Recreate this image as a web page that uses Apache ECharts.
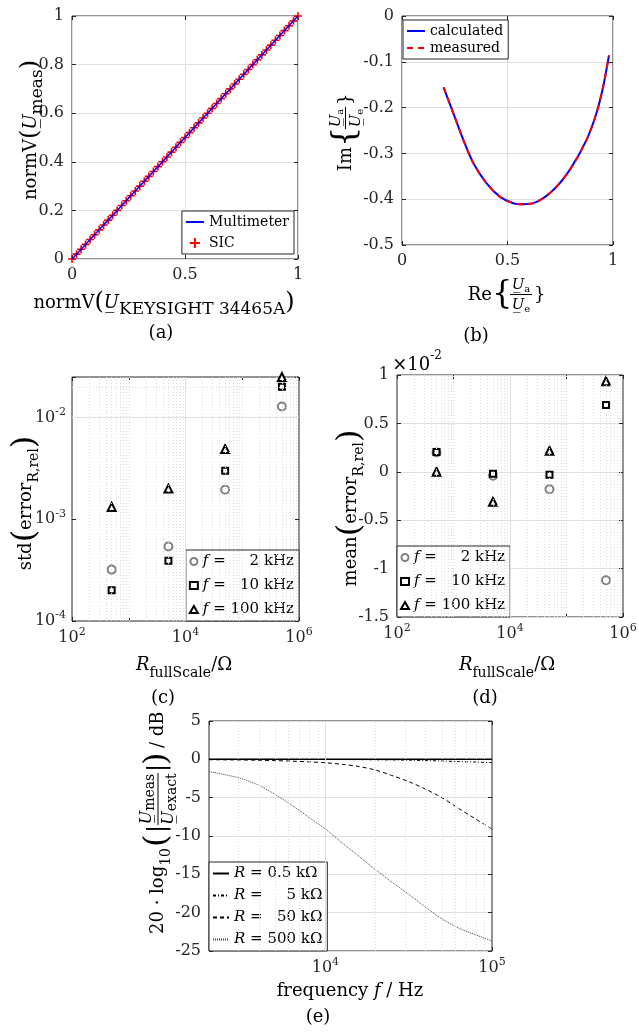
<!DOCTYPE html>
<html><head><meta charset="utf-8">
<script src="https://cdn.jsdelivr.net/npm/echarts@6.0.0/dist/echarts.min.js"></script>
<style>html,body{margin:0;padding:0;background:#fff;}#chart{width:639px;height:1034px;}</style>
</head><body><div id="chart"></div>
<script>
const F = 'DejaVu Serif';

// ---------- (a) normV(U_meas) vs normV(U_KEYSIGHT) ----------
const aKeysight   = [0,0.02,0.04,0.06,0.08,0.1,0.12,0.14,0.16,0.18,0.2,0.22,0.24,0.26,0.28,0.3,0.32,0.34,0.36,0.38,0.4,0.42,0.44,0.46,0.48,0.5,0.52,0.54,0.56,0.58,0.6,0.62,0.64,0.66,0.68,0.7,0.72,0.74,0.76,0.78,0.8,0.82,0.84,0.86,0.88,0.9,0.92,0.94,0.96,0.98,1];
const aMultimeter = [0,0.02,0.04,0.06,0.08,0.1,0.12,0.14,0.16,0.18,0.2,0.22,0.24,0.26,0.28,0.3,0.32,0.34,0.36,0.38,0.4,0.42,0.44,0.46,0.48,0.5,0.52,0.54,0.56,0.58,0.6,0.62,0.64,0.66,0.68,0.7,0.72,0.74,0.76,0.78,0.8,0.82,0.84,0.86,0.88,0.9,0.92,0.94,0.96,0.98,1];
const aSIC        = [0,0.02,0.04,0.06,0.08,0.1,0.12,0.14,0.16,0.18,0.2,0.22,0.24,0.26,0.28,0.3,0.32,0.34,0.36,0.38,0.4,0.42,0.44,0.46,0.48,0.5,0.52,0.54,0.56,0.58,0.6,0.62,0.64,0.66,0.68,0.7,0.72,0.74,0.76,0.78,0.8,0.82,0.84,0.86,0.88,0.9,0.92,0.94,0.96,0.98,1];

// ---------- (b) Nyquist: Re / Im of Ua/Ue ----------
const bRe     = [0.197,0.244,0.291,0.339,0.402,0.465,0.528,0.575,0.638,0.717,0.795,0.874,0.921,0.953,0.981];
const bImCalc = [-0.156,-0.213,-0.271,-0.322,-0.366,-0.395,-0.409,-0.411,-0.406,-0.380,-0.336,-0.271,-0.213,-0.155,-0.086];
const bImMeas = [-0.156,-0.213,-0.271,-0.322,-0.366,-0.395,-0.409,-0.411,-0.406,-0.380,-0.336,-0.271,-0.213,-0.155,-0.086];

// ---------- (c) std(error_R,rel) and (d) mean(error_R,rel) ----------
const cdRfull  = [500, 5000, 50000, 500000];
const cStd2k   = [3.2e-4, 5.4e-4, 1.95e-3, 1.28e-2];
const cStd10k  = [2.0e-4, 3.9e-4, 3.0e-3, 2.0e-2];
const cStd100k = [1.32e-3, 2.0e-3, 4.9e-3, 2.5e-2];
// values in units of 1e-2
const dMean2k   = [0.20, -0.04, -0.18, -1.12];
const dMean10k  = [0.205, -0.02, -0.03, 0.69];
const dMean100k = [0.0, -0.31, 0.217, 0.935];

// ---------- (e) 20 log10(|U_meas/U_exact|) vs frequency ----------
const eFreq = [2000,3000,4000,5000,6300,8000,10000,12600,16000,20000,25000,32000,40000,50000,63000,80000,100000];
const eR05  = [0,0,0,0,0,0,0,0,0,0,0,0,0,0,0,0,0];
const eR5   = [0,0,0,-0.01,-0.01,-0.02,-0.02,-0.03,-0.04,-0.06,-0.08,-0.11,-0.16,-0.22,-0.29,-0.36,-0.43];
const eR50  = [-0.05,-0.08,-0.12,-0.17,-0.24,-0.33,-0.45,-0.65,-0.95,-1.4,-2.1,-2.95,-3.9,-5.0,-6.4,-7.8,-9.1];
const eR500 = [-1.6,-2.4,-3.4,-4.6,-6.0,-7.6,-9.1,-10.9,-12.7,-14.4,-16.0,-17.7,-19.3,-20.8,-22.0,-22.9,-23.7];

// legend texts (U+2007 = figure space, keeps the numbers right-aligned)
const FS = '\u2007';
const cdLegend = {c2: '{i|f} = ' + FS + FS + '2 kHz', c10: '{i|f} = ' + FS + '10 kHz', c100: '{i|f} = 100 kHz',
                  d2: '{i|f} = ' + FS + FS + '2 kHz', d10: '{i|f} = ' + FS + '10 kHz', d100: '{i|f} = 100 kHz'};
const eLegend = {r05: '{i|R} = 0.5 kΩ', r5: '{i|R} = ' + FS + FS + '5 kΩ', r50: '{i|R} = ' + FS + '50 kΩ', r500: '{i|R} = 500 kΩ'};

// grid-line positions on log axes
const cdXMajor = [1e4];
const cdXMinor = []; [2,3,4,5].forEach(d => { for (let k = 1; k <= 9; k++) { if (k === 1 && d % 2 === 0) continue; cdXMinor.push(k * Math.pow(10, d)); } });
const cYMajor = [1e-3, 1e-2];
const cYMinor = []; [-4,-3,-2].forEach(d => { for (let k = 2; k <= 9; k++) { const v = k * Math.pow(10, d); if (v < 0.025) cYMinor.push(v); } });
const eXMajor = [1e4];
const eXMinor = [3000,4000,5000,6000,7000,8000,9000,20000,30000,40000,50000,60000,70000,80000,90000];

const pair = (xs, ys) => xs.map((x, i) => [x, ys[i]]);
const INK = '#262626';
const GRIDC = '#dfdfdf';
const MINORC = '#dcdcdc';

function logFmt(skipOdd) {
  return v => {
    const e = Math.log10(v), r = Math.round(e);
    if (Math.abs(e - r) > 1e-6) return '';
    if (skipOdd && r % 2 !== 0) return '';
    return '{b|10}{s|' + r + '}';
  };
}
const labelRich = {
  b: {fontFamily: F, fontSize: 16, color: INK, lineHeight: 22},
  s: {fontFamily: F, fontSize: 11, color: INK, lineHeight: 11, verticalAlign: 'top'}
};
function axisBase(extra) {
  return Object.assign({
    axisLine: {show: false, onZero: false},
    axisTick: {show: true, inside: true, length: 4, lineStyle: {color: INK}},
    axisLabel: {fontFamily: F, fontSize: 16, color: INK, margin: 8, rich: labelRich},
    splitLine: {show: true, lineStyle: {color: GRIDC, width: 1}},
    minorTick: {show: false}
  }, extra);
}
// mirrored (box) axis: ticks only
function mirror(ax, pos) {
  return Object.assign({}, ax, {position: pos, axisLabel: {show: false}, splitLine: {show: false},
                                 axisLine: {show: false, onZero: false}});
}
function gridLines(idx, xs, ys, major) {
  const sMaj = {color: GRIDC, type: 'solid', width: 1};
  const sMin = {color: MINORC, type: [1, 2], width: 1};
  const data = [];
  xs.forEach(v => data.push({xAxis: v, lineStyle: major.x && major.x.includes(v) ? sMaj : sMin}));
  ys.forEach(v => data.push({yAxis: v, lineStyle: major.y && major.y.includes(v) ? sMaj : sMin}));
  return {type: 'line', name: 'grid' + idx, xAxisIndex: idx, yAxisIndex: idx, data: [], z: 1, silent: true,
          markLine: {silent: true, symbol: ['none', 'none'], label: {show: false}, animation: false, data: data}};
}

const PLUS = 'path://M4,0h2v10h-2z M0,4h10v2h-10z';

const legendBase = {
  orient: 'vertical', selectedMode: false, backgroundColor: '#fff',
  borderColor: INK, borderWidth: 1, padding: [4, 5, 4, 3], itemGap: 4,
  textStyle: {fontFamily: F, fontSize: 15, color: '#000',
    rich: {i: {fontFamily: F, fontSize: 15, fontStyle: 'italic', color: '#000'}}}
};
const lineLegendItem = {color: 'rgba(0,0,0,0)', borderColor: 'rgba(0,0,0,0)', borderWidth: 0};
const smallText = {fontFamily: F, fontSize: 14, color: '#000'};

// rich text styles for graphic (zrender) labels
const RZ = {
  t: {fontFamily: F, fontSize: 18, lineHeight: 30, fill: '#000'},
  i: {fontFamily: F, fontSize: 18, fontStyle: 'italic', lineHeight: 30, fill: '#000'},
  s: {fontFamily: F, fontSize: 14, lineHeight: 14, verticalAlign: 'bottom', fill: '#000'},
  S: {fontFamily: F, fontSize: 17, lineHeight: 14, verticalAlign: 'bottom', fill: '#000'},
  sup: {fontFamily: F, fontSize: 12, lineHeight: 12, verticalAlign: 'top', fill: '#000'},
  p: {fontFamily: F, fontSize: 24, lineHeight: 30, fill: '#000'},
  P: {fontFamily: F, fontSize: 32, lineHeight: 30, fill: '#000'},
  fu: {fontFamily: F, fontSize: 15, fontStyle: 'italic', lineHeight: 18, fill: '#000'},
  fs: {fontFamily: F, fontSize: 10, lineHeight: 8, verticalAlign: 'bottom', fill: '#000'},
  gu: {fontFamily: F, fontSize: 16, fontStyle: 'italic', lineHeight: 20, fill: '#000'},
  gs: {fontFamily: F, fontSize: 14, lineHeight: 12, verticalAlign: 'bottom', fill: '#000'}
};
function T(x, y, text, align, rot) {
  return {type: 'text', x: x, y: y, rotation: rot || 0, z: 100,
          style: {text: text, rich: RZ, align: align || 'center', verticalAlign: 'middle', fill: '#000', font: '18px ' + F}};
}
function L(x1, y1, x2, y2, w) {
  return {type: 'line', shape: {x1: x1, y1: y1, x2: x2, y2: y2}, style: {stroke: '#000', lineWidth: w || 1}, z: 100};
}
const U = 'U\u0332';
// Re{Ua/Ue}-type label, local layout centred near 0
function braceFrac(x, y, rot, pre) {
  return {type: 'group', x: x, y: y, rotation: rot, children: [
    T(-14, 0, '{t|' + pre + '}', 'right'),
    T(-14, 0, '{P|{}', 'left'),
    T(15, -10, '{fu|' + U + '}{fs|a}', 'center'),
    L(4, -0.5, 26, -0.5, 1),
    T(15, 10, '{fu|' + U + '}{fs|e}', 'center'),
    T(28, 0, '{P|}}', 'left')
  ]};
}
// 20·log10(|Umeas/Uexact|) / dB
function eYLabel(x, y) {
  return {type: 'group', x: x, y: y, rotation: Math.PI / 2, children: [
    T(-8, 0, '{t|20 · log}{s|10}', 'right'),
    T(-7, 0, '{P|(}', 'left'),
    T(7, 0, '{p||}', 'left'),
    T(41, -11, '{gu|' + U + '}{gs|meas}', 'center'),
    L(15, 0, 67, 0, 1),
    T(41, 11, '{gu|' + U + '}{gs|exact}', 'center'),
    T(68, 0, '{p||}', 'left'),
    T(75, 0, '{P|)}', 'left'),
    T(92, 0, '{t|/ dB}', 'left')
  ]};
}

const logLabel = f => ({fontFamily: F, fontSize: 16, color: INK, margin: 6, rich: labelRich, formatter: f});
const xMain = [
  axisBase({gridIndex: 0, type: 'value', min: 0, max: 1, interval: 0.5}),
  axisBase({gridIndex: 1, type: 'value', min: 0, max: 1, interval: 0.5}),
  axisBase({gridIndex: 2, type: 'log', logBase: 10, min: 100, max: 1e6, splitLine: {show: false}, axisLabel: logLabel(logFmt(true))}),
  axisBase({gridIndex: 3, type: 'log', logBase: 10, min: 100, max: 1e6, splitLine: {show: false}, axisLabel: logLabel(logFmt(true))}),
  axisBase({gridIndex: 4, type: 'log', logBase: 10, min: 2000, max: 1e5, splitLine: {show: false}, axisLabel: logLabel(logFmt(false))})
];
const yMain = [
  axisBase({gridIndex: 0, type: 'value', min: 0, max: 1, interval: 0.2}),
  axisBase({gridIndex: 1, type: 'value', min: -0.5, max: 0, interval: 0.1}),
  axisBase({gridIndex: 2, type: 'log', logBase: 10, min: 1e-4, max: 0.025, splitLine: {show: false}, axisLabel: logLabel(logFmt(false))}),
  axisBase({gridIndex: 3, type: 'value', min: -1.5, max: 1, interval: 0.5}),
  axisBase({gridIndex: 4, type: 'value', min: -25, max: 5, interval: 5})
];

const option = {
  animation: false,
  backgroundColor: '#fff',
  textStyle: {fontFamily: F},
  grid: [
    {left: 72, top: 16, width: 226, height: 243},
    {left: 402, top: 16, width: 211, height: 229},
    {left: 72, top: 377, width: 227, height: 244},
    {left: 397, top: 375, width: 226, height: 242},
    {left: 209, top: 721, width: 283, height: 230}
  ].map(g => Object.assign(g, {show: true, borderColor: INK, borderWidth: 1, backgroundColor: '#fff',
                                containLabel: false, outerBoundsMode: 'none'})),
  xAxis: xMain.concat(xMain.map(a => mirror(a, 'top'))),
  yAxis: yMain.concat(yMain.map(a => mirror(a, 'right'))),
  legend: [
    Object.assign({}, legendBase, {right: 345, bottom: 780, itemWidth: 18, itemHeight: 10, itemGap: 7, textStyle: smallText,
      data: [{name: 'Multimeter', itemStyle: lineLegendItem}, 'SIC']}),
    Object.assign({}, legendBase, {left: 403, top: 20, itemWidth: 18, itemHeight: 10, itemGap: 3, itemStyle: lineLegendItem,
      textStyle: smallText, data: ['calculated', 'measured']}),
    Object.assign({}, legendBase, {right: 340, bottom: 413, itemWidth: 8, itemHeight: 7, itemGap: 9, data: ['c2', 'c10', 'c100'],
                                   formatter: n => cdLegend[n]}),
    Object.assign({}, legendBase, {left: 397, bottom: 417, itemWidth: 8, itemHeight: 7, itemGap: 9, data: ['d2', 'd10', 'd100'],
                                   formatter: n => cdLegend[n]}),
    Object.assign({}, legendBase, {left: 209, bottom: 83, itemWidth: 16, itemHeight: 10, itemGap: 7, itemStyle: lineLegendItem,
                                   data: ['r05', 'r5', 'r50', 'r500'], formatter: n => eLegend[n]})
  ],
  series: [
    // (a)
    {type: 'scatter', name: 'SIC', xAxisIndex: 0, yAxisIndex: 0, data: pair(aKeysight, aSIC),
     symbol: PLUS, symbolSize: 8, itemStyle: {color: '#ff0000', opacity: 1}, z: 2},
    {type: 'line', name: 'Multimeter', xAxisIndex: 0, yAxisIndex: 0, data: pair(aKeysight, aMultimeter),
     symbol: 'none', lineStyle: {color: '#0000ff', width: 1.5}, itemStyle: {color: '#0000ff'}, z: 3},
    // (b)
    {type: 'line', name: 'calculated', xAxisIndex: 1, yAxisIndex: 1, data: pair(bRe, bImCalc), smooth: 0.3,
     symbol: 'none', lineStyle: {color: '#0000ff', width: 2}, itemStyle: {color: '#0000ff'}},
    {type: 'line', name: 'measured', xAxisIndex: 1, yAxisIndex: 1, data: pair(bRe, bImMeas), smooth: 0.3,
     symbol: 'none', lineStyle: {color: '#ff0000', width: 2, type: [6, 5]}, itemStyle: {color: '#ff0000'}},
    // (c)
    gridLines(2, cdXMajor.concat(cdXMinor), cYMajor.concat(cYMinor), {x: cdXMajor, y: cYMajor}),
    {type: 'scatter', name: 'c2', xAxisIndex: 2, yAxisIndex: 2, data: pair(cdRfull, cStd2k),
     symbol: 'emptyCircle', symbolSize: 8, itemStyle: {color: '#808080', borderWidth: 1, opacity: 1}},
    {type: 'scatter', name: 'c10', xAxisIndex: 2, yAxisIndex: 2, data: pair(cdRfull, cStd10k),
     symbol: 'emptyRect', symbolSize: 6, itemStyle: {color: '#000', borderWidth: 1, opacity: 1}},
    {type: 'scatter', name: 'c100', xAxisIndex: 2, yAxisIndex: 2, data: pair(cdRfull, cStd100k),
     symbol: 'emptyTriangle', symbolSize: 8, itemStyle: {color: '#000', borderWidth: 1, opacity: 1}},
    // (d)
    gridLines(3, cdXMajor.concat(cdXMinor), [], {x: cdXMajor}),
    {type: 'scatter', name: 'd2', xAxisIndex: 3, yAxisIndex: 3, data: pair(cdRfull, dMean2k),
     symbol: 'emptyCircle', symbolSize: 8, itemStyle: {color: '#808080', borderWidth: 1, opacity: 1}},
    {type: 'scatter', name: 'd10', xAxisIndex: 3, yAxisIndex: 3, data: pair(cdRfull, dMean10k),
     symbol: 'emptyRect', symbolSize: 6, itemStyle: {color: '#000', borderWidth: 1, opacity: 1}},
    {type: 'scatter', name: 'd100', xAxisIndex: 3, yAxisIndex: 3, data: pair(cdRfull, dMean100k),
     symbol: 'emptyTriangle', symbolSize: 8, itemStyle: {color: '#000', borderWidth: 1, opacity: 1}},
    // (e)
    gridLines(4, eXMajor.concat(eXMinor), [], {x: eXMajor}),
    {type: 'line', name: 'r05', xAxisIndex: 4, yAxisIndex: 4, data: pair(eFreq, eR05), smooth: 0.3, symbol: 'none',
     lineStyle: {color: '#000', width: 1.5}, itemStyle: {color: '#000'}},
    {type: 'line', name: 'r5', xAxisIndex: 4, yAxisIndex: 4, data: pair(eFreq, eR5), smooth: 0.3, symbol: 'none',
     lineStyle: {color: '#000', width: 1, type: [3, 2, 1, 2]}, itemStyle: {color: '#000'}},
    {type: 'line', name: 'r50', xAxisIndex: 4, yAxisIndex: 4, data: pair(eFreq, eR50), smooth: 0.3, symbol: 'none',
     lineStyle: {color: '#000', width: 1, type: [4, 3]}, itemStyle: {color: '#000'}},
    {type: 'line', name: 'r500', xAxisIndex: 4, yAxisIndex: 4, data: pair(eFreq, eR500), smooth: 0.3, symbol: 'none',
     lineStyle: {color: '#444', width: 1, type: [1, 1]}, itemStyle: {color: '#444'}}
  ],
  graphic: {elements: [
    // (a)
    T(164, 303, '{t|normV}{p|(}{i|' + U + '}{S|KEYSIGHT 34465A}{p|)}'),
    T(31, 130, '{t|normV}{p|(}{i|' + U + '}{S|meas}{p|)}', 'center', Math.PI / 2),
    T(161, 333, '{t|(a)}'),
    // (b)
    braceFrac(506, 295, 0, 'Re'),
    braceFrac(346, 133, Math.PI / 2, 'Im'),
    T(476, 336, '{t|(b)}'),
    // (c)
    T(184, 665, '{i|R}{s|fullScale}{t|/Ω}'),
    T(26, 503, '{t|std}{P|(}{t|error}{s|R,rel}{P|)}', 'center', Math.PI / 2),
    T(163, 698, '{t|(c)}'),
    // (d)
    T(507, 665, '{i|R}{s|fullScale}{t|/Ω}'),
    T(351, 508, '{t|mean}{P|(}{t|error}{s|R,rel}{P|)}', 'center', Math.PI / 2),
    T(417, 365, '{t|×10}{sup|-2}'),
    T(485, 698, '{t|(d)}'),
    // (e)
    T(350, 991, '{t|frequency }{i|f}{t| / Hz}'),
    eYLabel(158, 840),
    T(318, 1017, '{t|(e)}')
  ]}
};

const chart = echarts.init(document.getElementById('chart'), null, {renderer: 'canvas'});
chart.setOption(option);
</script>
</body></html>
